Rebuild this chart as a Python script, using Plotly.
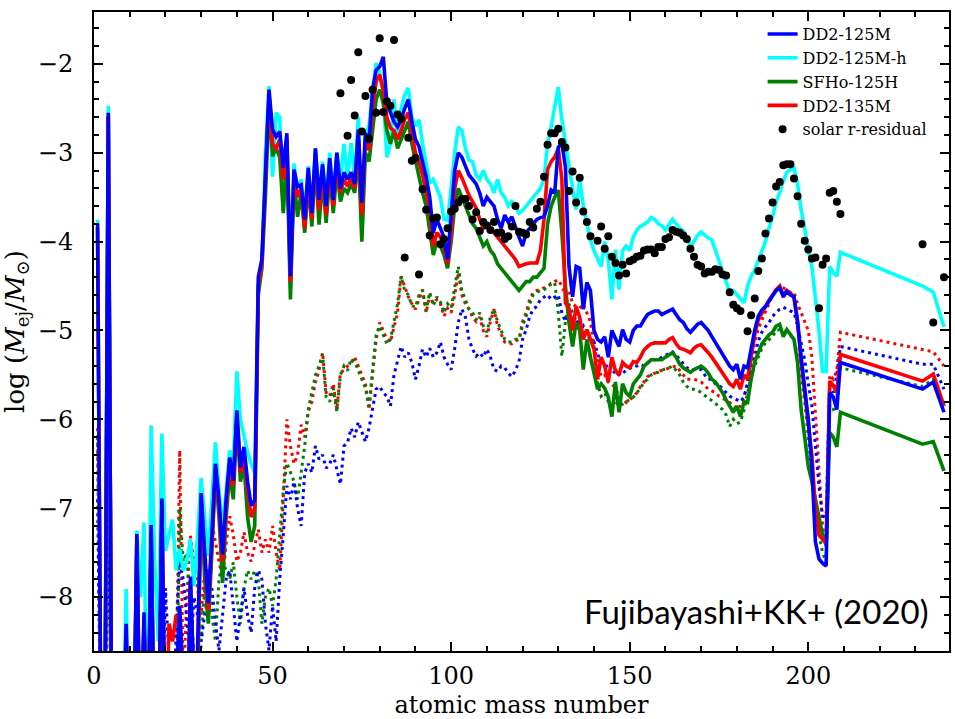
import plotly.graph_objects as go

# Mass numbers: A = 1..209 followed by the actinides
mass_number = list(range(1, 210)) + [232, 235, 238]

# log10 of ejecta mass per mass number; -10 means far below the plotted range
dd2_125m = [
    -3.8, -10, -10, -2.55, -10, -10, -10, -10, -8.3, -10,
    -10, -7.29, -10, -8.17, -10, -7.19, -10, -10, -6.89, -10,
    -10, -10, -9.0, -8.1, -9.0, -10, -7.77, -9.0, -8.6, -6.83,
    -7.5, -8.07, -7.3, -6.5, -6.9, -7.52, -6.9, -6.43, -6.69, -5.9,
    -6.54, -6.31, -6.7, -6.97, -6.91, -4.4, -4.2, -3.2, -2.29, -2.74,
    -2.82, -2.76, -3.17, -2.78, -4.39, -3.19, -3.38, -3.36, -3.75, -3.17,
    -3.68, -2.95, -3.53, -3.13, -3.6, -3.06, -3.53, -3.0, -3.4, -3.22,
    -3.3, -3.22, -3.35, -2.74, -3.56, -2.78, -2.89, -2.29, -2.07, -2.03,
    -1.92, -2.44, -2.55, -2.65, -2.71, -2.63, -2.5, -2.4, -2.65, -2.85,
    -2.93, -3.1, -3.27, -3.5, -3.9, -3.75, -3.85, -3.95, -4.2, -3.7,
    -3.2, -3.0, -3.05, -3.15, -3.25, -3.3, -3.35, -3.45, -3.6, -3.5,
    -3.55, -3.6, -3.75, -3.85, -3.7, -3.78, -3.72, -3.85, -3.95, -4.05,
    -3.9, -3.85, -3.8, -3.75, -3.73, -3.72, -3.6, -3.42, -3.45, -2.94,
    -2.89, -3.16, -4.28, -4.62, -4.28, -4.3, -4.76, -4.46, -4.55, -5.0,
    -5.1, -5.13, -5.07, -5.3, -5.0, -5.1, -5.18, -4.99, -5.1, -5.13,
    -5.0, -4.95, -4.95, -4.88, -4.82, -4.8, -4.78, -4.78, -4.82, -4.8,
    -4.78, -4.76, -4.82, -4.88, -4.91, -4.98, -5.02, -4.97, -4.93, -4.91,
    -4.95, -5.0, -5.07, -5.14, -5.21, -5.28, -5.33, -5.4, -5.44, -5.38,
    -5.55, -5.4, -5.42, -5.18, -5.0, -4.84, -4.77, -4.73, -4.67, -4.62,
    -4.55, -4.52, -4.62, -4.56, -4.6, -4.62, -4.9, -5.3, -5.65, -6.0,
    -6.53, -7.38, -7.57, -7.62, -7.65, -5.7, -5.75, -5.89, -5.36,
    -5.66, -5.58, -5.92,
]

dd2_125m_h = [
    -3.75, -10, -10, -2.47, -10, -10, -10, -10, -7.91, -10,
    -10, -7.25, -8.0, -7.16, -10, -6.07, -7.6, -8.5, -6.16, -7.48,
    -7.3, -7.13, -7.7, -7.46, -7.7, -7.6, -7.35, -7.88, -7.3, -6.66,
    -7.1, -7.54, -6.9, -6.26, -6.8, -7.23, -6.8, -6.35, -6.5, -5.46,
    -6.0, -6.2, -6.37, -6.5, -6.6, -4.5, -4.3, -3.0, -2.25, -3.27,
    -2.55, -2.6, -3.65, -2.85, -4.54, -3.12, -3.45, -3.3, -3.7, -3.15,
    -3.65, -2.95, -3.5, -3.1, -3.55, -3.0, -3.5, -3.0, -3.3, -2.9,
    -3.3, -2.89, -3.3, -2.6, -3.95, -2.8, -2.7, -2.3, -1.99, -2.1,
    -2.35, -3.05, -2.9, -2.4, -2.82, -2.5, -2.35, -2.27, -2.6, -2.7,
    -2.63, -2.9, -3.1, -3.34, -3.3, -3.4, -3.5, -3.75, -3.76, -3.4,
    -3.0, -2.71, -2.75, -2.95, -3.08, -3.1, -3.25, -3.3, -3.2, -3.3,
    -3.35, -3.45, -3.3, -3.45, -3.5, -3.6, -3.55, -3.6, -3.68, -3.65,
    -3.6, -3.55, -3.5, -3.45, -3.4, -3.3, -2.9, -2.71, -2.5, -2.26,
    -2.63, -2.9, -3.16, -3.4, -3.64, -3.3, -3.6, -3.8, -3.98, -4.1,
    -4.2, -4.28, -4.0, -4.2, -4.65, -4.09, -4.54, -4.1, -4.05, -4.1,
    -3.95, -3.87, -3.83, -3.8, -3.78, -3.73, -3.75, -3.8, -3.82, -3.87,
    -3.8, -3.75, -3.8, -3.85, -3.88, -3.95, -4.06, -4.0, -3.93, -3.89,
    -3.93, -3.96, -3.98, -4.1, -4.24, -4.33, -4.45, -4.57, -4.55, -4.6,
    -4.65, -4.69, -4.5, -4.39, -4.32, -4.22, -4.12, -4.0, -3.85, -3.72,
    -3.55, -3.45, -3.32, -3.22, -3.19, -3.17, -3.35, -3.64, -3.85, -4.1,
    -4.28, -4.6, -5.0, -5.46, -5.46, -4.28, -4.35, -4.39, -4.12,
    -4.5, -4.57, -4.96,
]

sfho_125h = [
    -10, -10, -10, -2.6, -10, -10, -10, -10, -8.5, -10,
    -10, -7.5, -10, -8.3, -10, -7.3, -10, -10, -7.0, -10,
    -10, -10, -9.5, -8.3, -9.5, -10, -7.9, -9.5, -9.0, -6.95,
    -7.8, -8.3, -7.5, -6.6, -7.1, -7.84, -7.1, -6.6, -6.9, -6.0,
    -6.7, -6.5, -7.1, -7.38, -7.2, -4.6, -4.3, -3.5, -2.45, -3.04,
    -2.95, -3.05, -3.68, -3.0, -4.65, -3.3, -3.72, -3.45, -3.9, -3.35,
    -3.83, -3.1, -3.81, -3.3, -3.79, -3.25, -3.68, -3.2, -3.55, -3.4,
    -3.45, -3.35, -3.45, -3.0, -4.0, -3.0, -3.1, -2.7, -2.4, -2.29,
    -2.45, -2.75, -2.9, -2.75, -2.95, -2.85, -2.75, -2.65, -2.9, -3.1,
    -3.3, -3.45, -3.6, -3.85, -4.15, -4.0, -4.05, -4.15, -4.3, -4.0,
    -3.6, -3.4, -3.5, -3.6, -3.7, -3.8, -3.85, -3.95, -4.05, -4.0,
    -4.1, -4.15, -4.25, -4.3, -4.35, -4.4, -4.45, -4.5, -4.55, -4.5,
    -4.45, -4.45, -4.4, -4.4, -4.35, -4.3, -3.8, -3.6, -3.5, -3.42,
    -3.9, -4.5, -4.91, -5.18, -4.91, -5.0, -5.44, -5.1, -5.3, -5.5,
    -5.66, -5.6, -5.65, -5.75, -5.97, -5.58, -5.92, -5.6, -5.7, -5.74,
    -5.6, -5.55, -5.5, -5.4, -5.36, -5.33, -5.33, -5.33, -5.33, -5.3,
    -5.28, -5.25, -5.3, -5.38, -5.42, -5.44, -5.47, -5.44, -5.42, -5.4,
    -5.43, -5.48, -5.55, -5.58, -5.64, -5.7, -5.78, -5.85, -5.92, -5.85,
    -5.97, -5.8, -5.81, -5.55, -5.35, -5.25, -5.15, -5.1, -5.05, -5.02,
    -4.95, -4.93, -5.07, -4.99, -5.05, -5.1, -5.36, -5.89, -6.2, -6.53,
    -6.7, -6.9, -7.1, -7.3, -7.4, -6.15, -6.2, -6.31, -5.92,
    -6.28, -6.25, -6.58,
]

dd2_135m = [
    -3.85, -10, -10, -2.58, -10, -10, -10, -10, -8.4, -10,
    -10, -7.35, -10, -8.25, -10, -7.25, -10, -10, -6.95, -10,
    -8.3, -8.5, -8.2, -8.4, -9.0, -10, -7.85, -9.0, -8.8, -6.9,
    -7.6, -8.15, -7.4, -6.55, -7.0, -7.6, -7.0, -6.5, -6.75, -5.95,
    -6.6, -6.4, -6.8, -7.1, -7.0, -4.5, -4.25, -3.3, -2.35, -2.9,
    -2.95, -2.85, -3.3, -2.85, -4.45, -3.25, -3.5, -3.4, -3.85, -3.25,
    -3.75, -3.0, -3.65, -3.2, -3.7, -3.12, -3.6, -3.05, -3.45, -3.3,
    -3.38, -3.28, -3.4, -2.85, -3.7, -2.85, -2.97, -2.5, -2.2, -2.12,
    -2.3, -2.6, -2.72, -2.75, -2.85, -2.75, -2.62, -2.55, -2.8, -3.0,
    -3.1, -3.25, -3.45, -3.65, -4.05, -3.9, -3.95, -4.05, -4.25, -3.9,
    -3.4, -3.2, -3.28, -3.38, -3.48, -3.55, -3.62, -3.75, -3.85, -3.8,
    -3.85, -3.9, -3.94, -4.0, -4.05, -4.09, -4.15, -4.2, -4.28, -4.26,
    -4.25, -4.24, -4.24, -4.24, -4.1, -3.75, -3.19, -3.1, -3.05, -2.95,
    -3.3, -4.69, -4.75, -5.0, -4.73, -4.85, -5.1, -4.99, -5.1, -5.21,
    -5.55, -5.3, -5.4, -5.58, -5.3, -5.45, -5.5, -5.36, -5.4, -5.42,
    -5.35, -5.36, -5.3, -5.22, -5.18, -5.15, -5.14, -5.14, -5.15, -5.14,
    -5.1, -5.08, -5.15, -5.2, -5.21, -5.23, -5.25, -5.2, -5.17, -5.16,
    -5.2, -5.25, -5.3, -5.36, -5.42, -5.48, -5.55, -5.6, -5.63, -5.55,
    -5.66, -5.5, -5.55, -5.3, -5.05, -4.88, -4.8, -4.73, -4.66, -4.6,
    -4.54, -4.5, -4.6, -4.55, -4.58, -4.63, -4.9, -5.35, -5.7, -6.0,
    -6.4, -7.0, -7.3, -7.35, -7.4, -5.57, -5.62, -5.7, -5.27,
    -5.57, -5.49, -5.85,
]

# Companion (dotted) yields for DD2-135M, SFHo-125H and DD2-125M
dd2_135m_dot = [
    -6.1, -10, -10, -6.5, -10, -10, -10, -10, -10, -10,
    -10, -10, -10, -10, -10, -10, -10, -10, -10, -10,
    -10, -10, -9.0, -6.35, -9.0, -8.0, -7.31, -7.6, -7.9, -8.2,
    -7.7, -7.3, -7.16, -7.4, -7.6, -7.8, -7.4, -7.09, -7.3, -7.6,
    -7.5, -7.27, -7.5, -7.6, -7.4, -7.24, -7.5, -7.35, -7.5, -7.2,
    -7.5, -7.7, -6.9, -6.0, -6.3, -6.5, -6.4, -6.06, -6.2, -5.91,
    -5.8, -5.58, -5.45, -5.25, -5.7, -5.74, -5.6, -5.89, -5.47, -5.45,
    -5.4, -5.36, -5.3, -5.4, -5.5, -5.6, -5.89, -5.5, -5.1, -4.91,
    -5.0, -5.1, -5.13, -4.95, -4.8, -4.39, -4.5, -4.62, -4.7, -4.76,
    -4.65, -4.54, -4.8, -4.6, -4.7, -4.65, -4.7, -4.84, -4.75, -4.8,
    -4.6, -4.35, -4.6, -4.7, -4.76, -4.85, -4.9, -4.85, -5.0, -5.07,
    -4.9, -4.76, -4.95, -5.05, -5.13, -5.15, -5.15, -5.12, -5.1, -4.9,
    -4.8, -4.65, -4.57, -4.55, -4.54, -4.52, -4.5, -4.48, -4.45, -4.43,
    -4.5, -4.6, -4.55, -4.7, -4.73, -4.75, -4.7, -4.8, -4.9, -5.18,
    -5.35, -5.52, -5.5, -5.58, -5.6, -5.65, -5.74, -5.78, -5.81, -5.78,
    -5.75, -5.7, -5.63, -5.58, -5.52, -5.5, -5.48, -5.46, -5.45, -5.44,
    -5.42, -5.41, -5.4, -5.45, -5.5, -5.55, -5.55, -5.55, -5.56, -5.58,
    -5.62, -5.66, -5.68, -5.7, -5.74, -5.76, -5.79, -5.81, -5.85, -5.89,
    -5.85, -5.75, -5.58, -5.35, -5.13, -4.98, -4.88, -4.78, -4.69, -4.6,
    -4.55, -4.5, -4.52, -4.55, -4.57, -4.57, -4.7, -4.8, -4.9, -5.0,
    -5.3, -5.9, -6.5, -7.2, -7.45, -5.5, -5.55, -5.45, -5.02,
    -5.21, -5.24, -5.4,
]

sfho_125h_dot = [
    -6.2, -10, -10, -6.6, -10, -10, -10, -10, -10, -10,
    -10, -10, -10, -10, -10, -10, -10, -10, -10, -10,
    -10, -10, -9.5, -7.0, -7.6, -7.5, -8.2, -8.6, -9.5, -8.5,
    -7.9, -7.69, -8.2, -8.5, -7.8, -7.6, -7.7, -7.8, -7.61, -8.0,
    -8.3, -7.9, -7.7, -7.8, -7.7, -7.8, -8.3, -8.0, -7.9, -8.1,
    -7.8, -7.27, -6.8, -6.49, -6.6, -6.7, -6.9, -6.6, -6.3, -5.89,
    -5.7, -5.5, -5.4, -5.27, -5.75, -5.8, -5.65, -5.92, -5.5, -5.4,
    -5.45, -5.32, -5.35, -5.45, -5.55, -5.65, -5.85, -5.45, -5.05, -4.95,
    -5.05, -5.15, -5.1, -4.9, -4.7, -4.39, -4.55, -4.6, -4.72, -4.74,
    -4.6, -4.55, -4.78, -4.57, -4.72, -4.62, -4.68, -4.8, -4.7, -4.75,
    -4.5, -4.28, -4.55, -4.65, -4.76, -4.8, -4.88, -4.8, -4.95, -5.02,
    -4.85, -4.76, -4.9, -5.0, -5.1, -5.13, -5.13, -5.1, -5.1, -4.95,
    -4.84, -4.7, -4.6, -4.57, -4.55, -4.54, -4.5, -4.47, -4.46, -4.8,
    -5.29, -4.9, -4.7, -4.8, -4.9, -4.95, -5.05, -5.1, -5.3, -5.45,
    -5.6, -5.74, -5.7, -5.8, -5.85, -5.8, -5.85, -5.83, -5.8, -5.78,
    -5.75, -5.7, -5.65, -5.58, -5.55, -5.5, -5.48, -5.47, -5.45, -5.43,
    -5.42, -5.4, -5.45, -5.5, -5.58, -5.63, -5.66, -5.66, -5.67, -5.7,
    -5.73, -5.76, -5.78, -5.82, -5.86, -5.89, -5.95, -6.08, -6.0, -6.05,
    -6.03, -5.9, -5.7, -5.52, -5.4, -5.29, -5.2, -5.14, -5.1, -5.07,
    -5.0, -4.99, -5.0, -5.02, -5.05, -5.1, -5.29, -5.5, -5.8, -6.2,
    -6.6, -7.0, -7.3, -7.5, -7.6, -5.85, -5.9, -5.75, -5.42,
    -5.63, -5.55, -5.85,
]

dd2_125m_dot = [
    -6.9, -10, -10, -6.9, -10, -10, -10, -10, -10, -10,
    -10, -10, -10, -10, -10, -10, -10, -10, -10, -7.9,
    -8.7, -9.5, -8.4, -7.6, -7.8, -8.3, -8.7, -8.0, -8.2, -8.5,
    -8.2, -8.0, -7.9, -8.3, -8.6, -8.2, -7.8, -7.7, -8.1, -8.5,
    -8.2, -7.9, -8.2, -8.4, -7.9, -7.7, -7.8, -8.3, -8.6, -8.1,
    -8.5, -7.8, -7.3, -6.75, -6.9, -6.7, -7.0, -7.2, -6.6, -6.5,
    -6.6, -6.3, -6.45, -6.4, -6.55, -6.5, -6.4, -6.55, -6.73, -6.3,
    -6.26, -6.1, -6.2, -6.03, -6.15, -6.25, -6.1, -5.9, -5.66, -5.63,
    -5.7, -5.74, -5.85, -5.5, -5.35, -5.18, -5.3, -5.25, -5.36, -5.55,
    -5.4, -5.21, -5.3, -5.2, -5.3, -5.25, -5.13, -5.3, -5.38, -5.44,
    -5.2, -4.91, -4.76, -4.85, -5.1, -5.21, -5.29, -5.25, -5.3, -5.21,
    -5.3, -5.44, -5.46, -5.4, -5.42, -5.48, -5.52, -5.45, -5.35, -5.1,
    -4.99, -4.84, -4.76, -4.73, -4.65, -4.62, -4.6, -4.65, -4.62, -4.6,
    -4.8, -4.9, -4.75, -4.9, -4.85, -5.0, -4.95, -5.05, -5.1, -5.13,
    -5.25, -5.4, -5.35, -5.45, -5.5, -5.45, -5.5, -5.48, -5.45, -5.42,
    -5.4, -5.4, -5.38, -5.4, -5.36, -5.33, -5.33, -5.33, -5.3, -5.28,
    -5.26, -5.24, -5.28, -5.33, -5.38, -5.42, -5.44, -5.44, -5.44, -5.44,
    -5.5, -5.55, -5.55, -5.6, -5.62, -5.65, -5.7, -5.74, -5.76, -5.78,
    -5.8, -5.75, -5.6, -5.4, -5.29, -5.12, -5.02, -4.96, -4.91, -4.84,
    -4.8, -4.76, -4.74, -4.76, -4.78, -4.8, -4.95, -5.15, -5.33, -5.6,
    -5.85, -6.3, -6.75, -7.09, -7.1, -5.59, -5.7, -5.5, -5.18,
    -5.38, -5.38, -5.66,
]

# Solar r-process residuals
solar_A = [
    69, 71, 72, 73, 74, 75, 76, 77, 78, 79, 80, 81, 82, 83, 84, 85, 86, 87, 88, 89,
    90, 91, 92, 93, 94, 95, 96, 97, 98, 99, 100, 101, 102, 103, 104, 105, 106, 107, 108, 109,
    110, 111, 112, 113, 114, 115, 116, 117, 118, 119, 120, 121, 122, 123, 124, 125, 126, 127, 128, 129,
    130, 131, 132, 133, 134, 135, 136, 137, 138, 139, 141, 142, 143, 144, 145, 146, 147, 148, 149, 150,
    151, 152, 153, 154, 155, 156, 157, 158, 159, 160, 161, 162, 163, 164, 165, 166, 167, 168, 169, 170,
    171, 172, 173, 174, 175, 176, 177, 178, 179, 180, 181, 183, 184, 185, 186, 187, 188, 189, 190, 191,
    192, 193, 194, 195, 196, 197, 198, 199, 200, 201, 202, 203, 204, 205, 206, 207, 208, 209, 232, 235,
    238,
]
solar_logM = [
    -2.33, -2.81, -2.18, -2.58, -1.87, -2.76, -2.36, -2.84, -2.29, -2.55, -1.71, -2.54, -2.42, -2.47, -1.73, -2.57, -2.62, -4.18, -2.83, -3.09,
    -3.06, -4.37, -3.41, -3.64, -3.93, -3.74, -3.73, -4.03, -3.97, -3.85, -3.66, -3.63, -3.56, -3.52, -3.52, -3.6, -3.75, -3.67, -3.88, -3.78,
    -3.82, -3.87, -3.78, -3.9, -3.9, -3.97, -3.94, -3.83, -3.6, -3.89, -3.9, -3.92, -3.78, -3.84, -3.63, -3.55, -3.27, -2.91, -2.78, -2.78,
    -2.73, -2.88, -2.94, -3.43, -3.21, -3.56, -3.28, -3.66, -3.78, -3.94, -3.99, -3.83, -4.08, -3.94, -4.17, -4.24, -4.38, -4.26, -4.36, -4.22,
    -4.2, -4.17, -4.16, -4.1, -4.09, -4.09, -4.13, -4.06, -4.06, -3.97, -3.95, -3.87, -3.89, -3.9, -3.93, -3.97, -4.08, -4.17, -4.26, -4.28,
    -4.36, -4.34, -4.34, -4.31, -4.32, -4.37, -4.38, -4.57, -4.71, -4.75, -4.78, -5.01, -4.83, -4.64, -4.33, -4.19, -3.91, -3.74, -3.56, -3.38,
    -3.33, -3.14, -3.13, -3.13, -3.29, -3.49, -3.8, -3.99, -4.09, -4.19, -4.18, -4.75, -4.26, -4.19, -3.45, -3.43, -3.55, -3.69, -4.03, -4.91,
    -4.4,
]

# Axis tick labels
x_tick_vals = [0, 50, 100, 150, 200]
x_tick_text = ["0", "50", "100", "150", "200"]
y_tick_vals = [-8, -7, -6, -5, -4, -3, -2]
y_tick_text = ["\u22128", "\u22127", "\u22126", "\u22125", "\u22124", "\u22123", "\u22122"]

for series in (dd2_125m, dd2_125m_h, sfho_125h, dd2_135m, dd2_135m_dot, sfho_125h_dot, dd2_125m_dot):
    assert len(series) == len(mass_number), len(series)
assert len(solar_A) == len(solar_logM)

BLUE, CYAN, GREEN, RED = "#0000ff", "#00ffff", "#008000", "#ff0000"
SERIF = "DejaVu Serif"

fig = go.Figure()

# dotted companion curves (no legend entries)
for ys, col in ((dd2_135m_dot, RED), (sfho_125h_dot, GREEN), (dd2_125m_dot, BLUE)):
    fig.add_trace(go.Scatter(x=mass_number, y=ys, mode="lines", showlegend=False,
                             line=dict(color=col, width=3, dash="3px,4px"),
                             hoverinfo="skip"))

# solid model curves
solid = [
    ("DD2-125M-h", dd2_125m_h, CYAN, 2),
    ("SFHo-125H", sfho_125h, GREEN, 3),
    ("DD2-135M", dd2_135m, RED, 4),
    ("DD2-125M", dd2_125m, BLUE, 1),
]
for name, ys, col, rank in solid:
    fig.add_trace(go.Scatter(x=mass_number, y=ys, mode="lines", name=name,
                             legendrank=rank, line=dict(color=col, width=3.6)))

fig.add_trace(go.Scatter(x=solar_A, y=solar_logM, mode="markers", name="solar r-residual",
                         legendrank=5, marker=dict(color="black", size=8)))

axis_common = dict(
    showline=True, linecolor="black", linewidth=2, mirror="allticks",
    ticks="inside", tickcolor="black", tickwidth=2, ticklen=9,
    showgrid=False, zeroline=False,
    tickfont=dict(family=SERIF, size=24, color="black"),
)

fig.update_xaxes(
    range=[0, 239.4], tickvals=x_tick_vals, ticktext=x_tick_text,
    minor=dict(dtick=10, tick0=0, ticks="inside", ticklen=5, tickwidth=1.5, tickcolor="black"),
    ticklabelstandoff=2,
    title=dict(text="atomic mass number", font=dict(family=SERIF, size=24, color="black"), standoff=8),
    **axis_common,
)
fig.update_yaxes(
    range=[-8.607, -1.416], tickvals=y_tick_vals, ticktext=y_tick_text,
    minor=dict(dtick=0.2, tick0=-8, ticks="inside", ticklen=5, tickwidth=1.5, tickcolor="black"),
    ticklabelstandoff=14,
    title=dict(text="log (<i>M</i><sub>ej</sub>/<i>M</i><sub>⊙</sub>)",
               font=dict(family=SERIF, size=26, color="black"), standoff=6),
    **axis_common,
)

fig.add_annotation(
    text="Fujibayashi+KK+ (2020)", xref="paper", yref="paper",
    x=0.5706, y=0.0625, xanchor="left", yanchor="middle", showarrow=False,
    font=dict(family="Lato", size=33, color="black"),
)

fig.update_layout(
    width=955, height=719,
    margin=dict(l=94, r=4, t=12, b=67),
    paper_bgcolor="white", plot_bgcolor="white",
    font=dict(family=SERIF, color="black"),
    legend=dict(x=0.782, y=0.992, xanchor="left", yanchor="top",
                bgcolor="rgba(0,0,0,0)", borderwidth=0, tracegroupgap=0,
                font=dict(family=SERIF, size=16, color="black")),
)

fig.write_html("out.html")
